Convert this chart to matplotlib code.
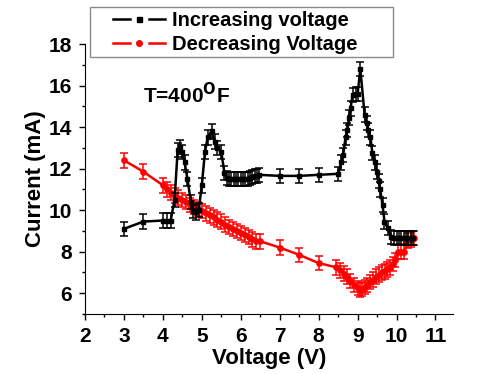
import matplotlib
matplotlib.use("Agg")
import matplotlib.pyplot as plt
from matplotlib.lines import Line2D
from matplotlib.patches import Rectangle
from matplotlib.ticker import MultipleLocator

# Increasing voltage (black)
inc_v = [3.0, 3.5, 4.0, 4.1, 4.2, 4.3, 4.38, 4.45, 4.5, 4.56, 4.63, 4.72, 4.78, 4.85, 4.92,
         5.0, 5.08, 5.15, 5.25, 5.33, 5.4, 5.5, 5.58, 5.64, 5.7, 5.76, 5.82, 5.88, 5.94, 6.0,
         6.06, 6.12, 6.18, 6.24, 6.3, 6.36, 6.42, 6.48, 7.0, 7.5, 8.0, 8.5, 8.58, 8.63, 8.69,
         8.74, 8.78, 8.82, 8.87, 8.95, 9.0, 9.07, 9.18, 9.23, 9.28, 9.33, 9.38, 9.44, 9.49,
         9.54, 9.58, 9.64, 9.69, 9.77, 9.87, 9.93, 10.0, 10.06, 10.12, 10.18, 10.24, 10.3,
         10.36, 10.42]
inc_i = [9.1, 9.45, 9.5, 9.5, 9.5, 10.5, 12.9, 13.05, 12.8, 12.3, 11.5, 10.4, 9.95, 9.9, 10.0,
         11.2, 12.8, 13.5, 13.8, 13.3, 13.0, 12.8, 11.8, 11.55, 11.5, 11.5, 11.5, 11.5, 11.5, 11.5,
         11.5, 11.5, 11.5, 11.55, 11.6, 11.65, 11.65, 11.7, 11.65, 11.65, 11.7, 11.75, 12.3, 12.65, 13.5,
         13.85, 14.45, 14.9, 15.55, 15.6, 15.6, 16.8, 14.6, 14.2, 13.85, 13.5, 12.75, 12.3, 11.85,
         11.4, 11.0, 10.25, 9.45, 9.15, 8.7, 8.65, 8.65, 8.65, 8.65, 8.65, 8.65, 8.65,
         8.65, 8.65]

# Decreasing voltage (red)
dec_v = [3.0, 3.5, 4.0, 4.1, 4.2, 4.3, 4.4, 4.5, 4.6, 4.7, 4.8, 4.9, 5.0, 5.1, 5.2, 5.3, 5.4,
         5.5, 5.6, 5.7, 5.8, 5.9, 6.0, 6.1, 6.2, 6.3, 6.4, 6.5, 7.0, 7.5, 8.0, 8.45, 8.55, 8.65,
         8.72, 8.8, 8.9, 9.0, 9.05, 9.12, 9.18, 9.25, 9.32, 9.4, 9.48, 9.55, 9.62, 9.7, 9.76,
         9.84, 9.9, 9.97, 10.04, 10.12, 10.2, 10.3, 10.38, 10.46]
dec_i = [12.4, 11.85, 11.2, 11.0, 10.85, 10.7, 10.6, 10.5, 10.4, 10.25, 10.15, 10.05, 9.95, 9.85,
         9.75, 9.65, 9.55, 9.45, 9.3, 9.2, 9.1, 9.0, 8.9, 8.8, 8.7, 8.6, 8.5, 8.5, 8.2, 7.85, 7.45,
         7.25, 7.1, 6.95, 6.8, 6.6, 6.4, 6.25, 6.15, 6.2, 6.3, 6.4, 6.55, 6.65, 6.8, 6.9, 7.0,
         7.05, 7.15, 7.25, 7.4, 7.6, 8.0, 8.0, 8.0, 8.55, 8.6, 8.65]

err = 0.35

x_ticks = [2, 3, 4, 5, 6, 7, 8, 9, 10, 11]
y_ticks = [6, 8, 10, 12, 14, 16, 18]

FONT = "Liberation Sans"
plt.rcParams['font.family'] = [FONT, 'DejaVu Sans']
plt.rcParams['font.weight'] = 'bold'

W, H = 485, 374
fig = plt.figure(figsize=(W / 100, H / 100), dpi=100)
ax = fig.add_axes([85 / W, 1 - 314 / H, 368 / W, 270 / H])

ax.errorbar(inc_v, inc_i, yerr=err, color='black', marker='s', markersize=3.4,
            linewidth=1.8, elinewidth=1.1, capsize=3, capthick=1.1, zorder=3)
ax.errorbar(dec_v, dec_i, yerr=err, color='red', marker='o', markersize=3.8,
            linewidth=1.8, elinewidth=1.1, capsize=3, capthick=1.1, zorder=2)

ax.set_xlim(2, 11.45)
ax.set_ylim(5, 18)
ax.set_xticks(x_ticks)
ax.set_yticks(y_ticks)
ax.xaxis.set_minor_locator(MultipleLocator(0.5))
ax.yaxis.set_minor_locator(MultipleLocator(1))
ax.tick_params(which='major', direction='out', length=4.5, width=1.0, labelsize=15, pad=5)
ax.tick_params(which='minor', direction='out', length=2.5, width=1.0)
for lab in ax.get_xticklabels() + ax.get_yticklabels():
    lab.set_fontweight('bold')
ax.spines['top'].set_visible(False)
ax.spines['right'].set_visible(False)

ax.set_xlabel("Voltage (V)", fontsize=16, fontweight='bold', labelpad=1)
ax.set_ylabel("Current (mA)", fontsize=16, fontweight='bold', labelpad=2)

ax.text((143 - 85) / 368, (314 - 95) / 270, r"T=400$^{\mathbf{O}}$F", transform=ax.transAxes,
        fontsize=15, fontweight='bold', ha='left', va='center')

# legend frame
box = Rectangle((90 / W, 1 - 57 / H), 303 / W, 50 / H, transform=fig.transFigure,
                facecolor='white', edgecolor='#8a8a8a', linewidth=1.0, zorder=4)
fig.patches.append(box)


class GapHandler:
    """Origin-style legend symbol: line - gap - marker - gap - line."""
    def legend_artist(self, legend, orig_handle, fontsize, handlebox):
        x0, y0 = -handlebox.xdescent, -handlebox.ydescent
        w, h = handlebox.width, handlebox.height
        yc = y0 + h / 2
        tr = handlebox.get_transform()
        c = orig_handle.get_color()
        seg = w * 0.32
        l1 = Line2D([x0, x0 + seg], [yc, yc], color=c, linewidth=1.8, transform=tr)
        l2 = Line2D([x0 + w - seg, x0 + w], [yc, yc], color=c, linewidth=1.8, transform=tr)
        m = Line2D([x0 + w / 2], [yc], linestyle='none', marker=orig_handle.get_marker(),
                   markersize=orig_handle.get_markersize(), color=c, transform=tr)
        handlebox.add_artist(l1)
        handlebox.add_artist(l2)
        handlebox.add_artist(m)
        return m


h1 = Line2D([], [], color='black', marker='s', markersize=3.6)
h2 = Line2D([], [], color='red', marker='o', markersize=4.0)

leg = fig.legend([h1, h2],
                 ["Increasing voltage", "Decreasing Voltage"],
                 handler_map={h1: GapHandler(), h2: GapHandler()},
                 loc='upper left', bbox_to_anchor=(113 / W, 1 - 11 / H),
                 frameon=False, prop={'family': FONT, 'weight': 'bold', 'size': 14.5},
                 handlelength=2.6, handletextpad=0.35, borderpad=0, labelspacing=0.25,
                 borderaxespad=0)
leg.set_zorder(5)

fig.savefig("out.png", dpi=100)
